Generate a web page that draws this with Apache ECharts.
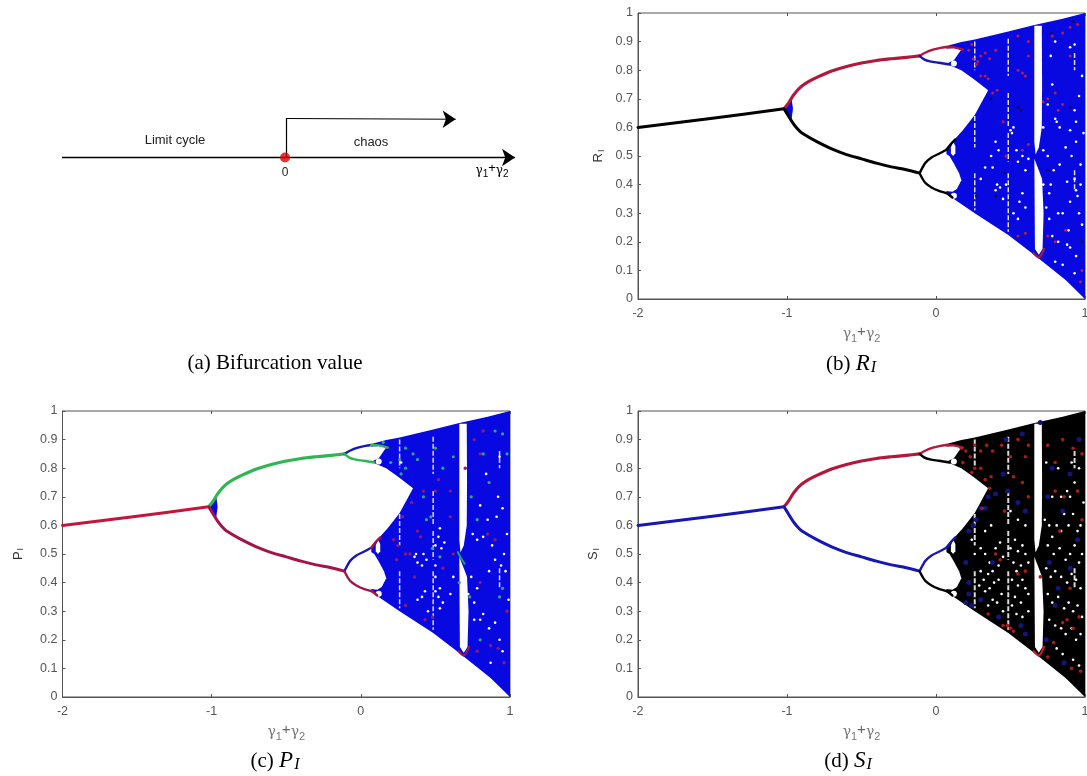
<!DOCTYPE html>
<html>
<head>
<meta charset="utf-8">
<style>html,body{margin:0;padding:0;background:#fff}#c{width:1087px;height:776px}</style>
<script src="https://cdn.jsdelivr.net/npm/echarts@6/dist/echarts.min.js"></script>
</head>
<body>
<div id="c"></div>
<script>
// ---- values: shared bifurcation skeleton ----
const yTicksMax = 1;
const periodOne = [[-2,0.6],[-1.5,0.632],[-1.02,0.665]];
const upperBranch = [[-1.02,0.665],[-0.99,0.685],[-0.96,0.71],[-0.93,0.73],[-0.9,0.745],[-0.85,0.762],[-0.8,0.775],[-0.7,0.797],[-0.6,0.813],[-0.5,0.825],[-0.4,0.834],[-0.3,0.84],[-0.2,0.845],[-0.11,0.85]];
const lowerBranch = [[-1.02,0.665],[-0.99,0.64],[-0.96,0.615],[-0.93,0.595],[-0.9,0.58],[-0.8,0.55],[-0.7,0.525],[-0.6,0.505],[-0.5,0.49],[-0.4,0.475],[-0.3,0.462],[-0.2,0.452],[-0.11,0.44]];
const upperLoopTop = [[-0.11,0.85],[-0.07,0.862],[-0.02,0.872],[0.03,0.878],[0.07,0.881]];
const upperLoopTopEnd = [[0.07,0.881],[0.12,0.88],[0.18,0.872]];
const upperLoopBottom = [[-0.11,0.85],[-0.08,0.838],[-0.04,0.831],[0.02,0.826],[0.09,0.82]];
const lowerLoopTop = [[-0.11,0.44],[-0.09,0.46],[-0.07,0.477],[-0.03,0.495],[0.02,0.508],[0.07,0.522]];
const lowerLoopTopEnd = [[0.07,0.522],[0.1,0.542],[0.13,0.558]];
const lowerLoopBottom = [[-0.11,0.44],[-0.09,0.42],[-0.07,0.405],[-0.03,0.39],[0.02,0.378],[0.07,0.37],[0.11,0.355]];
const forkWedge = [[-1.02,0.665],[-0.97,0.705],[-0.96,0.665],[-0.97,0.625]];
const chaosBand = [[0.07,0.885],[0.17,0.899],[0.26,0.907],[0.485,0.935],[0.653,0.957],[0.85,0.98],[1,1],[1,0],[0.87,0.066],[0.66,0.154],[0.485,0.224],[0.26,0.3],[0.1,0.357],[0.07,0.37]];
const upperHole = [[0.06,0.875],[0.12,0.878],[0.17,0.872],[0.12,0.835],[0.08,0.825],[0.06,0.827]];
const mainHole = [[0.06,0.825],[0.08,0.82],[0.17,0.8],[0.25,0.77],[0.35,0.73],[0.26,0.643],[0.18,0.59],[0.11,0.55],[0.07,0.525],[0.06,0.52]];
const lowerHole = [[0.06,0.51],[0.09,0.5],[0.12,0.474],[0.155,0.44],[0.17,0.415],[0.14,0.385],[0.11,0.375],[0.07,0.378],[0.06,0.38]];
const midHole = [[0.1,0.53],[0.115,0.55],[0.13,0.535],[0.13,0.51],[0.115,0.5],[0.1,0.51]];
const windowUpper = [[0.66,0.955],[0.71,0.955],[0.712,0.75],[0.71,0.6],[0.69,0.53],[0.668,0.505],[0.66,0.55]];
const windowLower = [[0.66,0.49],[0.69,0.45],[0.712,0.42],[0.722,0.3],[0.715,0.175],[0.69,0.155],[0.664,0.175]];
const smallHoles = [[0.12,0.823],[0.12,0.361]];
const windowFoot = [[0.655,0.16],[0.69,0.145],[0.725,0.175]];
const thinWindows = [[[0.26,0.9],[0.26,0.8]],[[0.26,0.64],[0.26,0.53]],[[0.26,0.44],[0.26,0.31]],[[0.485,0.91],[0.485,0.78]],[[0.485,0.72],[0.485,0.6]],[[0.485,0.58],[0.485,0.48]],[[0.485,0.44],[0.485,0.235]],[[0.93,0.86],[0.93,0.8]],[[0.93,0.45],[0.93,0.38]]];

// ---- scattered dots seen in each panel ----
const whiteR = [[0.8,0.63],[0.81,0.62],[0.83,0.6],[0.9,0.88],[0.93,0.89],[0.9,0.59],[0.94,0.62],[0.94,0.55],[0.91,0.5],[0.93,0.42],[0.94,0.38],[0.95,0.36],[0.83,0.47],[0.87,0.53],[0.79,0.45],[0.77,0.4],[0.76,0.37],[0.82,0.3],[0.85,0.3],[0.88,0.19],[0.9,0.18],[0.94,0.15],[0.93,0.09],[0.89,0.24],[0.96,0.3],[0.98,0.26],[0.97,0.47],[0.98,0.78],[0.96,0.71],[0.93,0.66],[0.55,0.48],[0.54,0.52],[0.5,0.59],[0.52,0.6],[0.51,0.58],[0.4,0.55],[0.42,0.52],[0.37,0.5],[0.38,0.46],[0.41,0.4],[0.43,0.39],[0.4,0.38],[0.45,0.35],[0.47,0.4],[0.33,0.46],[0.3,0.42],[0.56,0.34],[0.58,0.37],[0.6,0.32],[0.52,0.3],[0.55,0.28],[0.58,0.5],[0.6,0.45],[0.62,0.49],[0.75,0.68],[0.72,0.6],[0.78,0.75],[0.77,0.85],[0.8,0.9],[0.74,0.32],[0.78,0.22],[0.82,0.2],[0.85,0.12],[0.8,0.13],[0.72,0.52],[0.75,0.5],[0.76,0.28],[0.99,0.58],[0.97,0.4],[0.9,0.34],[0.88,0.41],[0.72,0.4],[0.7,0.1]];
const redR = [[0.3,0.85],[0.33,0.86],[0.36,0.84],[0.4,0.87],[0.27,0.82],[0.28,0.83],[0.25,0.84],[0.22,0.87],[0.3,0.78],[0.35,0.77],[0.33,0.78],[0.38,0.72],[0.41,0.73],[0.55,0.8],[0.58,0.79],[0.6,0.78],[0.62,0.85],[0.55,0.92],[0.62,0.9],[0.85,0.93],[0.9,0.95],[0.95,0.96],[0.78,0.92],[0.8,0.72],[0.75,0.7],[0.72,0.69],[0.82,0.66],[0.85,0.68],[0.55,0.22],[0.6,0.23],[0.87,0.24],[0.75,0.22],[0.8,0.2],[0.45,0.62],[0.98,0.1],[0.97,0.06],[0.9,0.85],[0.47,0.5],[0.62,0.54],[0.58,0.52],[0.24,0.89]];
const darkR = [[0.77,0.93],[0.9,0.67],[0.57,0.66],[0.55,0.67],[0.37,0.7],[0.27,0.36],[0.4,0.36],[0.75,0.45],[0.92,0.97],[0.46,0.44],[0.98,0.2]];
const whiteP = [[0.27,0.82],[0.42,0.5],[0.44,0.48],[0.41,0.46],[0.38,0.47],[0.36,0.49],[0.38,0.34],[0.41,0.35],[0.43,0.37],[0.45,0.3],[0.37,0.5],[0.52,0.56],[0.54,0.52],[0.56,0.54],[0.5,0.53],[0.53,0.59],[0.5,0.46],[0.5,0.42],[0.53,0.38],[0.52,0.35],[0.55,0.33],[0.53,0.31],[0.5,0.37],[0.75,0.57],[0.78,0.55],[0.82,0.56],[0.85,0.62],[0.88,0.53],[0.91,0.63],[0.95,0.66],[0.92,0.7],[0.96,0.5],[0.94,0.46],[0.97,0.44],[0.9,0.48],[0.86,0.44],[0.78,0.38],[0.82,0.29],[0.8,0.27],[0.86,0.24],[0.9,0.26],[0.93,0.2],[0.95,0.16],[0.87,0.12],[0.76,0.33],[0.76,0.27],[0.98,0.57],[0.74,0.42],[0.72,0.36],[0.99,0.34],[0.93,0.84],[0.8,0.67],[0.84,0.78],[0.6,0.36],[0.62,0.42]];
const purpleP = [[0.22,0.55],[0.25,0.53],[0.38,0.58],[0.4,0.56],[0.36,0.42],[0.33,0.5],[0.3,0.5],[0.24,0.48],[0.3,0.32],[0.43,0.27],[0.48,0.28],[0.55,0.45],[0.6,0.63],[0.62,0.5],[0.52,0.76],[0.5,0.72],[0.6,0.72],[0.7,0.8],[0.82,0.93],[0.76,0.9],[0.8,0.85],[0.85,0.57],[0.9,0.55],[0.92,0.17],[0.87,0.18],[0.78,0.16],[0.96,0.12],[0.98,0.3],[0.8,0.4],[0.28,0.63],[0.34,0.68],[0.42,0.72]];
const greenP = [[0.26,0.83],[0.3,0.87],[0.35,0.85],[0.38,0.83],[0.27,0.78],[0.42,0.7],[0.44,0.62],[0.47,0.63],[0.48,0.52],[0.53,0.49],[0.5,0.87],[0.55,0.8],[0.62,0.84],[0.82,0.85],[0.86,0.75],[0.95,0.92],[0.9,0.93],[0.98,0.85],[0.93,0.35],[0.95,0.38],[0.8,0.2],[0.74,0.7],[0.78,0.62],[0.15,0.89],[0.66,0.4],[0.73,0.35],[0.3,0.8],[0.2,0.82]];
const whiteS = [[0.24,0.55],[0.26,0.5],[0.3,0.52],[0.33,0.5],[0.36,0.47],[0.4,0.52],[0.43,0.54],[0.45,0.49],[0.42,0.46],[0.38,0.44],[0.35,0.43],[0.32,0.41],[0.3,0.44],[0.29,0.39],[0.33,0.37],[0.36,0.38],[0.39,0.4],[0.42,0.41],[0.44,0.36],[0.41,0.33],[0.38,0.34],[0.35,0.32],[0.45,0.3],[0.5,0.52],[0.53,0.55],[0.55,0.51],[0.58,0.53],[0.6,0.5],[0.62,0.47],[0.57,0.46],[0.54,0.44],[0.52,0.47],[0.51,0.41],[0.55,0.39],[0.58,0.41],[0.6,0.38],[0.62,0.36],[0.57,0.33],[0.53,0.35],[0.51,0.32],[0.54,0.29],[0.58,0.28],[0.62,0.3],[0.73,0.62],[0.76,0.6],[0.78,0.56],[0.81,0.6],[0.84,0.58],[0.86,0.64],[0.89,0.6],[0.92,0.64],[0.95,0.58],[0.97,0.6],[0.75,0.53],[0.79,0.5],[0.83,0.52],[0.87,0.48],[0.9,0.5],[0.93,0.53],[0.96,0.47],[0.98,0.5],[0.74,0.45],[0.77,0.42],[0.8,0.44],[0.84,0.42],[0.88,0.4],[0.91,0.43],[0.94,0.41],[0.97,0.38],[0.75,0.36],[0.78,0.33],[0.82,0.35],[0.86,0.31],[0.89,0.33],[0.92,0.3],[0.95,0.32],[0.98,0.28],[0.76,0.27],[0.8,0.25],[0.84,0.24],[0.87,0.22],[0.91,0.24],[0.94,0.2],[0.97,0.22],[0.81,0.17],[0.85,0.15],[0.92,0.13],[0.96,0.11],[0.9,0.7],[0.93,0.75],[0.88,0.72],[0.84,0.7],[0.96,0.8],[0.91,0.82],[0.78,0.7],[0.99,0.68],[0.74,0.82],[0.82,0.8],[0.6,0.6],[0.55,0.62],[0.5,0.65],[0.33,0.58],[0.37,0.6]];
const redS = [[0.17,0.87],[0.2,0.86],[0.23,0.84],[0.18,0.82],[0.26,0.88],[0.3,0.86],[0.34,0.88],[0.38,0.86],[0.26,0.8],[0.3,0.8],[0.24,0.785],[0.33,0.76],[0.37,0.77],[0.31,0.66],[0.36,0.73],[0.44,0.88],[0.5,0.84],[0.55,0.9],[0.6,0.84],[0.62,0.88],[0.52,0.77],[0.58,0.75],[0.62,0.7],[0.46,0.65],[0.75,0.88],[0.8,0.82],[0.85,0.9],[0.92,0.87],[0.98,0.85],[0.8,0.72],[0.86,0.7],[0.95,0.72],[0.83,0.58],[0.9,0.38],[0.88,0.27],[0.85,0.26],[0.92,0.24],[0.96,0.28],[0.79,0.19],[0.75,0.14],[0.91,0.1],[0.97,0.09],[0.45,0.25],[0.48,0.25],[0.5,0.24],[0.52,0.23],[0.4,0.5],[0.43,0.48],[0.55,0.43],[0.6,0.44],[0.35,0.29],[0.7,0.42],[0.98,0.62]];
const blueS = [[0.22,0.4],[0.2,0.47],[0.22,0.36],[0.2,0.33],[0.24,0.32],[0.3,0.34],[0.33,0.66],[0.3,0.66],[0.27,0.62],[0.25,0.6],[0.4,0.71],[0.45,0.78],[0.48,0.72],[0.55,0.68],[0.6,0.65],[0.38,0.47],[0.42,0.28],[0.57,0.25],[0.6,0.22],[0.75,0.7],[0.78,0.8],[0.85,0.65],[0.9,0.78],[0.76,0.47],[0.82,0.38],[0.9,0.45],[0.95,0.55],[0.58,0.92],[0.7,0.96],[0.8,0.32],[0.86,0.12],[0.74,0.2],[0.47,0.9],[0.96,0.9],[0.35,0.7],[0.22,0.58]];

// ---- timeline in panel (a) ----
const timelineAxis = [[-1,0],[1.031,0]];
const timelineRise = [[0.004,0],[0.004,1]];
const timelineChaos = [[0.004,1],[0.765,0.98]];
const bifurcationPoint = [[0,0]];

// ---- tick labels / panel palettes ----
const xTickMin = -2, xTickMax = 1, yTickStep = 0.1;
const crimson = '#b3173c', ink = '#000000', navy = '#1717b5', royal = '#0808e0', green = '#2fb552', maroon = '#a3154a';

const grey = '#555';
const sans = '"Liberation Sans",Arial,sans-serif';
const grids = [], xAxes = [], yAxes = [], series = [];

function addGrid(g, hidden) {
  const i = grids.length;
  grids.push(Object.assign({show: !hidden, borderColor: '#555', borderWidth: 1, containLabel: false, outerBoundsMode: 'none'}, g));
  return i;
}
function polygons(list, color, gi, ax, z) {
  series.push({
    type: 'custom', xAxisIndex: ax, yAxisIndex: gi, z, silent: true, clip: true,
    data: list.map(p => p[0]), encode: {x: 0, y: 1},
    renderItem(params, api) {
      return {type: 'polygon', shape: {points: list[params.dataIndex].map(p => api.coord(p))}, style: {fill: color}};
    }
  });
}
function line(data, color, width, ax, yi, z) {
  series.push({type: 'line', xAxisIndex: ax, yAxisIndex: yi, data, z, silent: true, symbol: 'none', smooth: 0.3,
    lineStyle: {color, width, cap: 'round', join: 'round'}, animation: false});
}
function dots(data, color, size, ax, yi, z) {
  series.push({type: 'scatter', xAxisIndex: ax, yAxisIndex: yi, data, z, silent: true, symbolSize: size,
    itemStyle: {color, opacity: 1}, animation: false});
}
const gammaRich = {
  g: {fontFamily: '"DejaVu Serif",serif', fontSize: 14, color: '#777'},
  s: {fontSize: 11, color: '#777', padding: [8, 0, 0, 0], fontFamily: sans},
  p: {fontSize: 15, color: '#666', padding: [0, 0, 6, 0], fontFamily: sans}
};
const gammaName = '{g|γ}{s|1}{p|+}{g|γ}{s|2}';

function panel(box, nameLetter, cfg) {
  const gi = addGrid(box);
  const ax = xAxes.length;
  xAxes.push({gridIndex: gi, type: 'value', min: xTickMin, max: xTickMax, interval: 1, position: 'bottom',
    axisLine: {lineStyle: {color: '#555'}, onZero: false}, axisTick: {inside: true, length: 3, lineStyle: {color: '#555'}},
    axisLabel: {color: grey, fontFamily: sans, fontSize: 12.5, margin: 8, hideOverlap: false}, splitLine: {show: false},
    name: gammaName, nameLocation: 'middle', nameGap: 25, nameTextStyle: {rich: gammaRich}});
  xAxes.push({gridIndex: gi, type: 'value', min: xTickMin, max: xTickMax, interval: 1, position: 'top',
    axisLine: {show: false, onZero: false}, axisTick: {inside: true, length: 3, lineStyle: {color: '#555'}},
    axisLabel: {show: false}, splitLine: {show: false}});
  const yi = yAxes.length;
  yAxes.push({gridIndex: gi, type: 'value', min: 0, max: yTicksMax, interval: yTickStep, position: 'left',
    axisLine: {lineStyle: {color: '#555'}, onZero: false}, axisTick: {inside: true, length: 3, lineStyle: {color: '#555'}},
    axisLabel: {color: grey, fontFamily: sans, fontSize: 12.5, margin: 5}, splitLine: {show: false},
    name: '{m|' + nameLetter + '}{s|I}', nameLocation: 'middle', nameRotate: 90, nameGap: cfg.nameGap,
    nameTextStyle: {rich: {m: {fontFamily: sans, fontSize: 13, color: '#333'}, s: {fontFamily: sans, fontSize: 9, color: '#333', padding: [6, 0, 0, 1]}}}});

  polygons([chaosBand], cfg.band, yi, ax, 2);
  if (cfg.wedge) polygons([forkWedge], cfg.wedge, yi, ax, 2);
  polygons([upperHole, mainHole, lowerHole, midHole, windowUpper, windowLower], '#fff', yi, ax, 3);
  thinWindows.forEach(seg => series.push({type: 'line', xAxisIndex: ax, yAxisIndex: yi, data: seg, z: 3, silent: true, symbol: 'none',
    lineStyle: {color: '#fff', width: cfg.thin, opacity: 0.85, type: [5, 2]}, animation: false}));
  dots(smallHoles, '#fff', 6, ax, yi, 3);
  dots(cfg.white, '#fff', 2.6, ax, yi, 4);
  cfg.specks.forEach(s => dots(s[0], s[1], s[2], ax, yi, 4));
  line(periodOne, cfg.p1, 3, ax, yi, 5);
  line(upperBranch, cfg.up, 3.2, ax, yi, 5);
  line(lowerBranch, cfg.low, 3, ax, yi, 5);
  line(upperLoopTop, cfg.ut, 2.4, ax, yi, 5);
  line(upperLoopTopEnd, cfg.ute, 2.4, ax, yi, 5);
  line(upperLoopBottom, cfg.ub, 2.4, ax, yi, 5);
  line(lowerLoopTop, cfg.lt, 2.4, ax, yi, 5);
  line(lowerLoopTopEnd, cfg.lte, 2.4, ax, yi, 5);
  line(lowerLoopBottom, cfg.lb, 2.4, ax, yi, 5);
  line(windowFoot, cfg.foot, 2.2, ax, yi, 5);
  if (cfg.kink) line(cfg.kink, cfg.kinkColor, 2, ax, yi, 5);
}

// panel (a): schematic, hidden axes
const gA = addGrid({left: 62, top: 118.5, width: 453, height: 39}, true);
xAxes.push({gridIndex: gA, type: 'value', min: -1, max: 1.031, show: false});
yAxes.push({gridIndex: gA, type: 'value', min: 0, max: 1, show: false});
const arrowLine = (pts, width, arrow) => ({
  silent: true, symbol: arrow ? ['none', 'arrow'] : ['none', 'none'], symbolSize: 13, animation: false,
  lineStyle: {color: '#000', width, type: 'solid'}, label: {show: false},
  data: [[{coord: pts[0]}, {coord: pts[1]}]]
});
[[timelineAxis, 1.4, true], [timelineRise, 1.2, false], [timelineChaos, 1.1, true]].forEach(([pts, w, a]) => {
  series.push({type: 'line', xAxisIndex: 0, yAxisIndex: 0, data: [], markLine: arrowLine(pts, w, a), z: 3});
});
series.push({type: 'scatter', xAxisIndex: 0, yAxisIndex: 0, data: bifurcationPoint, symbolSize: 10, silent: true, z: 20, zlevel: 1,
  clip: false, itemStyle: {color: '#e00000'}, animation: false});

panel({left: 638, top: 13, width: 447, height: 286}, 'R', {
  nameGap: 32, band: royal, wedge: royal, thin: 1.5, white: whiteR, specks: [[redR, '#b0204a', 3], [darkR, '#101050', 3]],
  p1: ink, up: crimson, low: ink, ut: crimson, ute: crimson, ub: navy, lt: ink, lte: ink, lb: ink, foot: crimson
});
panel({left: 62.5, top: 411, width: 447.5, height: 286}, 'P', {
  nameGap: 37, band: royal, wedge: royal, thin: 1.5, white: whiteP, specks: [[purpleP, '#8a1a78', 3.4], [greenP, '#2fa58a', 3.2]],
  p1: '#c2173a', up: green, low: maroon, ut: navy, ute: green, ub: green, lt: navy, lte: maroon, lb: maroon, foot: maroon,
  kink: [[0.65, 0.507], [0.672, 0.485], [0.696, 0.466]], kinkColor: '#1f9f7a'
});
panel({left: 638, top: 411, width: 447, height: 286}, 'S', {
  nameGap: 37, band: '#000', wedge: null, thin: 2, white: whiteS, specks: [[blueS, '#14147a', 5], [redS, '#a81c1c', 3.6]],
  p1: navy, up: crimson, low: navy, ut: crimson, ute: crimson, ub: ink, lt: navy, lte: navy, lb: ink, foot: '#d01830'
});

const serif = '"Liberation Serif","Times New Roman",serif';
const capRich = {
  t: {fontFamily: serif, fontSize: 21, color: '#000'},
  i: {fontFamily: serif, fontSize: 23, fontStyle: 'italic', color: '#000'},
  s: {fontFamily: serif, fontSize: 16, fontStyle: 'italic', color: '#000', padding: [8, 0, 0, 1]}
};
const note = (x, y, text, size) => ({type: 'text', silent: true, x, y, style: {text, fontFamily: sans, fontSize: size, fill: '#222', align: 'center', verticalAlign: 'middle'}});
const capAt = (x, y, text) => ({type: 'text', silent: true, x, y, style: {text, rich: capRich, align: 'center', verticalAlign: 'middle'}});

const option = {
  animation: false,
  backgroundColor: '#fff',
  grid: grids, xAxis: xAxes, yAxis: yAxes, series,
  graphic: [
    note(175, 140, 'Limit cycle', 13),
    note(371, 142, 'chaos', 13),
    note(285, 173, '0', 12),
    {type: 'text', silent: true, x: 492, y: 171, style: {text: gammaName, rich: {
      g: {fontFamily: '"DejaVu Serif",serif', fontSize: 12, color: '#333'},
      s: {fontSize: 10, color: '#333', padding: [6, 0, 0, 0], fontFamily: sans},
      p: {fontSize: 13, color: '#333', padding: [0, 0, 5, 0], fontFamily: sans}
    }, align: 'center', verticalAlign: 'middle'}},
    capAt(275, 363, '{t|(a) Bifurcation value}'),
    capAt(851, 364, '{t|(b) }{i|R}{s|I}'),
    capAt(275, 761, '{t|(c) }{i|P}{s|I}'),
    capAt(848, 761, '{t|(d) }{i|S}{s|I}')
  ]
};
const chart = echarts.init(document.getElementById('c'), null, {renderer: 'canvas'});
chart.setOption(option);
</script>
</body>
</html>
